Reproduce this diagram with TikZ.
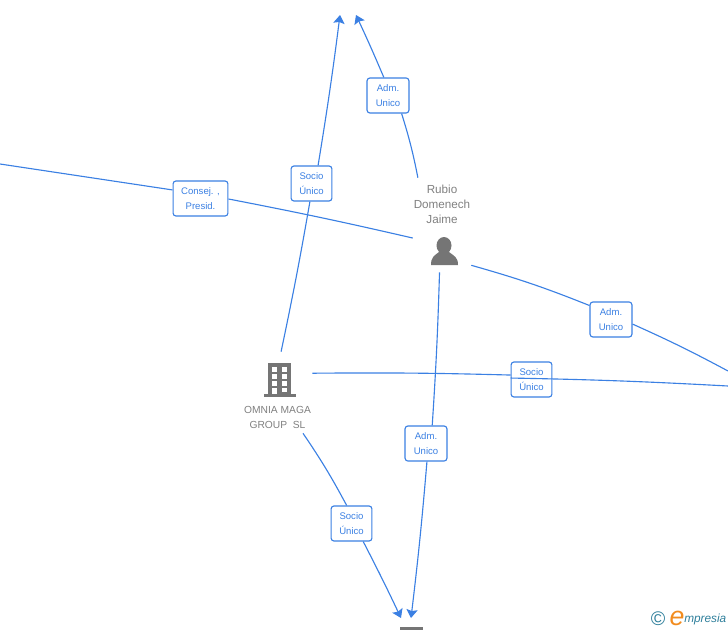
\documentclass[tikz,border=0pt]{standalone}
\usepackage{fontspec}
\setmainfont{Liberation Sans}
\usetikzlibrary{arrows.meta}
\definecolor{linkblue}{HTML}{3B80E3}
\definecolor{icongray}{HTML}{757575}
\definecolor{textgray}{HTML}{808080}
\definecolor{logoteal}{HTML}{2F7F9B}
\definecolor{logoorange}{HTML}{F28C1E}
\tikzset{
	link/.style={draw=linkblue, line width=0.8pt},
	tip/.style={-{Stealth[length=6pt,width=8pt,inset=1pt]}},
	relbox/.style={draw=linkblue, fill=white, rounded corners=2pt, line width=0.8pt, text=linkblue, align=center, inner sep=0pt, minimum height=24.9pt, font=\fontsize{6.8}{10.7}\selectfont},
	entity/.style={inner sep=0pt, minimum width=#1},
	nametext/.style={text=textgray, align=center, inner sep=0pt}
}

\begin{document}
\begin{tikzpicture}[x=0.025cm, y=-0.025cm]
	%%%%% START %%%%%
	\useasboundingbox (0, 0) rectangle (728, 630);

	% places the lines stop at
	\node[entity=58*0.025cm, minimum height=94*0.025cm] (rubio) at (442, 225) {};
	\node[entity=69*0.025cm, minimum height=81*0.025cm] (omnia) at (277.5, 392.5) {};
	\coordinate (leftEnd) at (0, 164);
	\coordinate (rightEndA) at (728, 371);
	\coordinate (rightEndB) at (728, 386);
	\coordinate (topEndA) at (340, 15);
	\coordinate (topEndB) at (356, 15);
	\coordinate (bottomEndA) at (401, 618);
	\coordinate (bottomEndB) at (411, 618);

	% labels on the lines
	\node[relbox, minimum width=39pt] (consej) at (200.5, 198.5) {Consej. ,\\Presid.};
	\node[relbox, minimum width=29pt] (socioTop) at (311.5, 183.5) {Socio\\Único};
	\node[relbox, minimum width=29.8pt] (admTop) at (388, 95.5) {Adm.\\Unico};
	\node[relbox, minimum width=29.8pt] (admRight) at (611, 319.5) {Adm.\\Unico};
	\node[relbox, minimum width=29pt] (socioRight) at (531.5, 379.5) {Socio\\Único};
	\node[relbox, minimum width=29.8pt] (admBottom) at (426, 443.5) {Adm.\\Unico};
	\node[relbox, minimum width=29pt] (socioBottom) at (351.5, 523.5) {Socio\\Único};

	% lines
	\draw[link] (omnia.85) to[bend right=1] (socioTop.265);
	\draw[link, tip] (socioTop.70) to[bend right=1] (topEndA);
	\draw[link] (rubio.117) to[bend right=3] (admTop.307);
	\draw[link, tip] (admTop.103) to[bend right=1] (topEndB);
	\draw[link] (leftEnd) -- (consej.163);
	\draw[link] (consej.359) to[bend left=1] (rubio.204);
	\draw[link] (rubio.-54) to[bend left=3] (admRight.147);
	\draw[link] (admRight.348) to[bend left=2] (rightEndA);
	\draw[link] (omnia.29.5) to[bend left=1] (socioRight.168);
	\draw[link] (socioRight.176) to[bend left=1] (rightEndB);
	\draw[link] (rubio.267.6) to[bend left=1] (admBottom.71);
	\draw[link, tip] (admBottom.273) to[bend left=1] (bottomEndB);
	\draw[link] (omnia.302) to[bend left=3] (socioBottom.105);
	\draw[link, tip] (socioBottom.303) to[bend left=1] (bottomEndA);

	% person
	\node[nametext, font=\fontsize{8.3}{10.7}\selectfont] (rubioText) at (442, 204) {Rubio\\Domenech\\Jaime};
	\fill[icongray] (444, 245.5) ellipse (7.5 and 8.5);
	\fill[icongray] (431, 265) .. controls (431, 257) and (434, 256) .. (439, 252) -- (449, 252) .. controls (454, 256) and (458, 257) .. (458, 265) -- cycle;

	% building
	\node[nametext, font=\fontsize{7.3}{10.7}\selectfont] (omniaText) at (277.5, 417.5) {OMNIA MAGA\\GROUP\ \ SL};
	\fill[icongray] (268, 363) rectangle (291, 394);
	\fill[icongray] (264, 394) rectangle (296, 397);
	\foreach \wy in {367, 374, 381} {
		\fill[white] (272, \wy) rectangle (277, \wy+5);
		\fill[white] (282, \wy) rectangle (287, \wy+5);
	}
	\fill[white] (272, 387.5) rectangle (277, 394);
	\fill[white] (282, 387.5) rectangle (287, 391.5);

	% cut off building at the bottom
	\fill[icongray] (400, 627) rectangle (423, 630);

	% logo
	\node[text=logoteal, inner sep=0pt, font=\fontsize{14}{14}\selectfont] (logoC) at (658, 619) {©};
	\node[text=logoorange, inner sep=0pt, font=\fontsize{19}{19}\selectfont\itshape] (logoE) at (677, 618) {e};
	\node[text=logoteal, inner sep=0pt, anchor=west, font=\fontsize{8.4}{10}\selectfont\itshape] (logoName) at (684, 619) {mpresia};
	%%%%% END %%%%%
\end{tikzpicture}
\end{document}
